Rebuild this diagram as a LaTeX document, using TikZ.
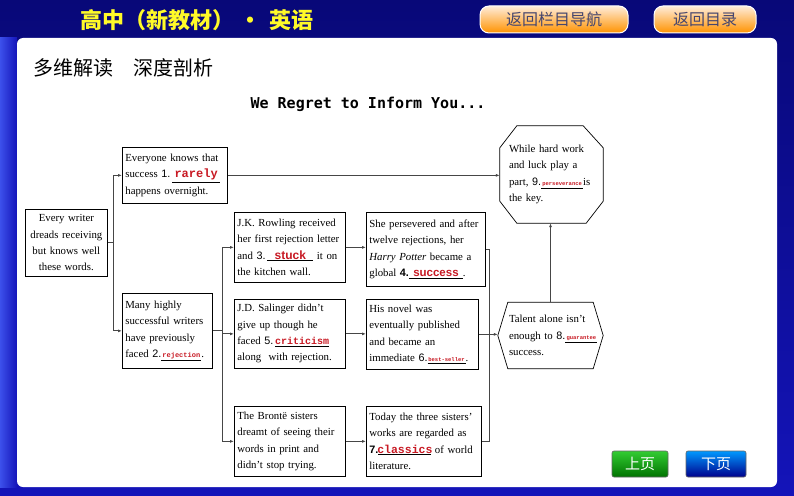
\documentclass[tikz,border=0pt]{standalone}
\usepackage{fontspec}
\setmainfont{Liberation Serif}
\newfontfamily\cjkf{Noto Sans CJK SC}
\newfontfamily\monof{Liberation Mono}
\newfontfamily\dmonof{DejaVu Sans Mono}
\newfontfamily\sansf{Liberation Sans}
\usetikzlibrary{arrows.meta}
\definecolor{ansred}{RGB}{200,25,35}
\definecolor{navy}{RGB}{8,8,120}
\definecolor{midblue}{RGB}{20,20,185}
\definecolor{ltblue}{RGB}{60,80,235}
\definecolor{ttlyellow}{RGB}{255,250,40}
\definecolor{btntext}{RGB}{70,70,110}
\definecolor{conncol}{RGB}{70,70,70}
\newcommand{\blank}[2]{\underline{\makebox[#1]{\textcolor{ansred}{#2}}}}
\newcommand{\num}[1]{{\sansf #1}}
\newcommand{\smallans}{\monof\bfseries\fontsize{5.5}{5.5}\selectfont}
\begin{document}
\begin{tikzpicture}[x=1pt,y=-1pt,
  box/.style={draw=black, line width=0.7pt, anchor=north west, inner xsep=3pt, inner ysep=2pt,
     align=left, font=\fontsize{10.8}{16.3}\selectfont},
  polytext/.style={inner xsep=3pt, inner ysep=2pt, align=left, font=\fontsize{10.8}{16.3}\selectfont},
  polyline/.style={draw=black, line width=0.7pt},
  line/.style={draw=conncol, line width=0.9pt},
  arr/.style={line, -{Latex[length=4pt,width=3pt]}},
  topbtn/.style={rounded corners=9pt, draw=white, line width=1pt, top color=orange!15!white, bottom color=orange!85!yellow,
     text=btntext, font=\cjkf\fontsize{16}{16}\selectfont, inner sep=0pt},
  botbtn/.style={rounded corners=2pt, draw=black!60, line width=0.6pt, text=white, font=\cjkf\fontsize{15}{15}\selectfont, inner sep=0pt}
]
\useasboundingbox (0,0) rectangle (794,495);
% background
\shade[top color=navy, bottom color=midblue] (0,0) rectangle (794,495);
\shade[left color=ltblue, right color=midblue] (0,38) rectangle (17,487);
\fill[white, rounded corners=6pt] (17,38) rectangle (777,487);

% header
\node[font=\cjkf\bfseries\fontsize{22}{22}\selectfont, text=ttlyellow] (hdr) at (197,20) {高中（新教材）\hspace{5pt}·\hspace{8pt}英语};
\node[topbtn, minimum width=148, minimum height=27] (nav) at (554,19.5) {返回栏目导航};
\node[topbtn, minimum width=102, minimum height=27] (toc) at (705,19.5) {返回目录};

\node[font=\cjkf\fontsize{20}{20}\selectfont, anchor=west] (sec) at (30,68) {多维解读　深度剖析};
\node[font=\dmonof\bfseries\fontsize{15}{15}\selectfont] (ttl) at (368,104) {We Regret to Inform You...};

% boxes
\node[box, align=center, minimum width=82, minimum height=67, text width=76pt] (A) at (25,209)
  {Every writer\\dreads receiving\\but knows well\\these words.};
\node[box, minimum width=105, minimum height=56, text width=99pt] (B) at (122,147)
  {Everyone knows that\\\mbox{success \num{1.}\,\blank{48pt}{\monof\bfseries\fontsize{12}{12}\selectfont rarely}}\\happens overnight.};
\node[box, minimum width=90, minimum height=75, text width=84pt] (C) at (122,293)
  {Many highly\\successful writers\\have previously\\\mbox{faced \num{2.}\blank{40pt}{\monof\bfseries\fontsize{7}{7}\selectfont rejection}.}};
\node[box, minimum width=111, minimum height=70, text width=105pt] (D) at (234,212)
  {J.K. Rowling received\\her first rejection letter\\\mbox{and \num{3.}\,\blank{46pt}{\sansf\bfseries\fontsize{12}{12}\selectfont stuck} it on}\\the kitchen wall.};
\node[box, minimum width=119, minimum height=74, text width=113pt] (E) at (366,212)
  {She persevered and after\\twelve rejections, her\\\textit{Harry Potter} became a\\\mbox{global \num{\bfseries 4.}\blank{54pt}{\sansf\bfseries\fontsize{11.5}{11.5}\selectfont success}.}};
\node[box, minimum width=111, minimum height=69, text width=105pt] (F) at (234,299)
  {J.D. Salinger didn’t\\give up though he\\\mbox{faced \num{5.}\,\blank{54pt}{\monof\bfseries\fontsize{10}{10}\selectfont criticism}}\\along\ \ with rejection.};
\node[box, minimum width=112, minimum height=70, text width=106pt] (G) at (366,299)
  {His novel was\\eventually published\\and became an\\\mbox{immediate \num{6.}\blank{38pt}{\smallans best-seller}.}};
\node[box, minimum width=111, minimum height=70, text width=105pt] (H) at (234,406)
  {The Brontë sisters\\dreamt of seeing their\\words in print and\\didn’t stop trying.};
\node[box, minimum width=115, minimum height=70, text width=109pt] (I) at (366,406)
  {Today the three sisters’\\works are regarded as\\\mbox{\num{\bfseries 7.}\blank{53pt}{\monof\bfseries\fontsize{11.5}{11.5}\selectfont classics} of world}\\literature.};

% octagon and hexagon
\node[polytext, minimum width=103, minimum height=97, text width=85pt] (oct) at (551.5,174.5)
  {While hard work\\and luck play a\\\mbox{part,\ \num{9.}\blank{42pt}{\smallans perseverance}is}\\the key.};
\draw[polyline] ([xshift=17pt]oct.north west) -- ([xshift=-20pt]oct.north east)
  -- ([yshift=-22pt]oct.north east) -- ([yshift=22pt]oct.south east)
  -- ([xshift=-17pt]oct.south east) -- ([xshift=17pt]oct.south west)
  -- ([yshift=22pt]oct.south west) -- ([yshift=-22pt]oct.north west) -- cycle;
\node[polytext, minimum width=105, minimum height=66, text width=83pt] (hex) at (550.5,335.5)
  {Talent alone isn’t\\\mbox{enough to \num{8.}\blank{32pt}{\smallans guarantee}}\\success.};
\draw[polyline] ([xshift=10pt]hex.north west) -- ([xshift=-10pt]hex.north east)
  -- (hex.east) -- ([xshift=-10pt]hex.south east) -- ([xshift=10pt]hex.south west)
  -- (hex.west) -- cycle;

% connectors
\coordinate (j1) at ([xshift=6pt]A.east);
\draw[line] (A.east) -- (j1);
\draw[arr] (j1) |- (B.west);
\draw[arr] (j1) |- (C.west);
\coordinate (j2) at ([xshift=10pt]C.east);
\draw[line] (C.east) -- (j2);
\draw[arr] (j2) |- (D.west);
\draw[arr] (j2) |- (F.west);
\draw[arr] (j2) |- (H.west);
\draw[arr] (D.east) -- (D.east -| E.west);
\draw[arr] (F.east) -- (F.east -| G.west);
\draw[arr] (H.east) -- (H.east -| I.west);
\coordinate (j3) at ([xshift=4pt]E.east);
\draw[line] (E.east) -- (j3) |- (I.east);
\draw[arr] (G.east) -- (G.east -| hex.west);
\draw[arr] (B.east) -- (B.east -| oct.west);
\draw[arr] (hex.north) -- (hex.north |- oct.south);

% bottom buttons
\node[botbtn, minimum width=56, minimum height=26, top color=green!75!black!80!white, bottom color=green!45!black] (prev) at (640,464) {上页};
\node[botbtn, minimum width=60, minimum height=26, top color=cyan!60!blue, bottom color=blue!55!black] (next) at (716,464) {下页};
\end{tikzpicture}
\end{document}
